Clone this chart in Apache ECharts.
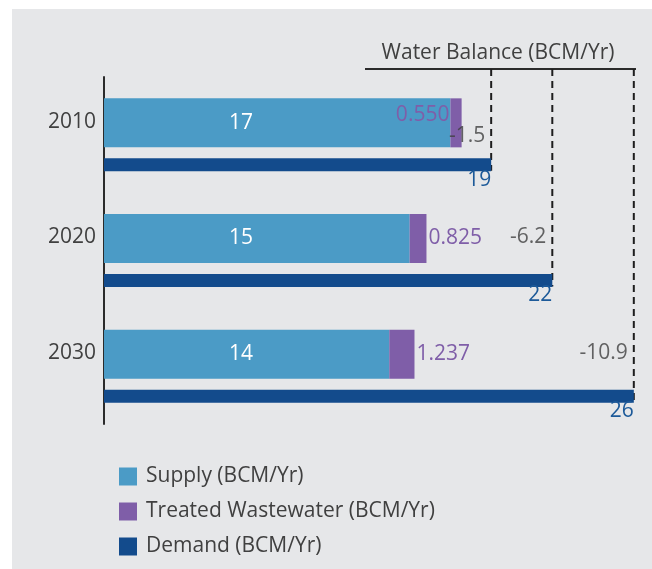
<!DOCTYPE html>
<html>
<head>
<meta charset="utf-8">
<script src="https://cdn.jsdelivr.net/npm/echarts@6/dist/echarts.min.js"></script>
<style>
  html, body { margin: 0; padding: 0; background: #ffffff; }
  #panel { position: absolute; left: 12px; top: 9px; width: 640px; height: 560px; background: #e6e7e9; }
  #chart { position: absolute; left: 0; top: 0; width: 652px; height: 569px; }
</style>
</head>
<body>
<div id="panel"></div>
<div id="chart"></div>
<script>
// Water supply vs. demand, billion cubic metres per year
const years = ['2010', '2020', '2030'];
const supply = [17, 15, 14];
const treatedWastewater = [0.550, 0.825, 1.237];
const demand = [19, 22, 26];
const balance = [-1.5, -6.2, -10.9];

const seriesNames = ['Supply (BCM/Yr)', 'Treated Wastewater (BCM/Yr)', 'Demand (BCM/Yr)'];
const balanceTitle = 'Water Balance (BCM/Yr)';

const FONT = '"Open Sans", sans-serif';
const FS = 21;
const TEXT = '#404040';
const C_SUPPLY = '#4b9bc6';
const C_WW = '#7f5ea8';
const C_DEMAND = '#134b8c';

const TITLE_LINE_Y = 69;

const chart = echarts.init(document.getElementById('chart'), null, { renderer: 'canvas' });

const wwData = treatedWastewater.map((v, i) => i === 0
  ? { value: v, label: { position: 'left', distance: 1, offset: [0, -8] } }
  : v);

const balanceData = balance.map((b, i) => ({
  value: [demand[i], years[i], b],
  label: { offset: [0, i === 0 ? 1 : -13] }
}));

const option = {
  animation: false,
  textStyle: { fontFamily: FONT },
  grid: { left: 104, top: 77, width: 540, height: 347, containLabel: false },
  xAxis: {
    type: 'value', min: 0, max: 26.5,
    axisLine: { show: false }, axisTick: { show: false },
    axisLabel: { show: false }, splitLine: { show: false }
  },
  yAxis: {
    type: 'category', data: years, inverse: true,
    axisLine: { show: true, lineStyle: { color: '#2b2b2b', width: 2 } },
    axisTick: { show: false },
    axisLabel: { color: TEXT, fontSize: FS, fontFamily: FONT, margin: 8,
                 verticalAlign: 'bottom', lineHeight: 26 }
  },
  legend: {
    orient: 'vertical', left: 114, top: 461,
    itemWidth: 18, itemHeight: 18, itemGap: 14, icon: 'rect',
    data: seriesNames,
    textStyle: { color: TEXT, fontSize: FS, fontFamily: FONT, padding: [0, 0, 0, 4] }
  },
  graphic: [
    {
      type: 'text', x: 498, y: 53,
      style: { text: balanceTitle, align: 'center', verticalAlign: 'middle',
               textAlign: 'center', textVerticalAlign: 'middle',
               fill: TEXT, font: FS + 'px ' + FONT }
    },
    {
      type: 'line', shape: { x1: 365, y1: TITLE_LINE_Y, x2: 636, y2: TITLE_LINE_Y },
      style: { stroke: '#2b2b2b', lineWidth: 2 }
    }
  ],
  series: [
    {
      // dashed drop lines from the balance header to each demand bar end
      type: 'custom', name: 'balanceGuide', z: 1,
      data: demand.map((d, i) => [d, years[i]]),
      renderItem: function (params, api) {
        const p = api.coord([api.value(0), api.value(1)]);
        return {
          type: 'line',
          shape: { x1: p[0], y1: TITLE_LINE_Y, x2: p[0], y2: p[1] + 36 },
          style: { stroke: '#1e1e1e', lineWidth: 2, lineDash: [7, 5] }
        };
      }
    },
    {
      type: 'bar', name: seriesNames[0], stack: 'supply', data: supply,
      barWidth: 49, barGap: '22.4%', z: 3,
      itemStyle: { color: C_SUPPLY },
      label: { show: true, position: [137, '50%'], align: 'center', verticalAlign: 'middle',
               color: '#ffffff', fontSize: FS, fontFamily: FONT }
    },
    {
      type: 'bar', name: seriesNames[1], stack: 'supply', data: wwData,
      barWidth: 49, z: 3,
      itemStyle: { color: C_WW },
      label: { show: true, position: 'right', distance: 2, color: C_WW, fontSize: FS, fontFamily: FONT,
               formatter: p => Number(p.value).toFixed(3) }
    },
    {
      type: 'bar', name: seriesNames[2], stack: 'demand', data: demand,
      barWidth: 13, z: 3,
      itemStyle: { color: C_DEMAND },
      label: { show: true, position: ['100%', '100%'], align: 'right', verticalAlign: 'top',
               offset: [0, -2], color: '#1d5a99', fontSize: FS, fontFamily: FONT }
    },
    {
      type: 'scatter', name: 'balance', symbolSize: 0, z: 4,
      data: balanceData,
      label: { show: true, position: 'left', distance: 6, color: TEXT, fontSize: FS, fontFamily: FONT,
               formatter: p => String(p.value[2]) }
    }
  ]
};

chart.setOption(option);
</script>
</body>
</html>
